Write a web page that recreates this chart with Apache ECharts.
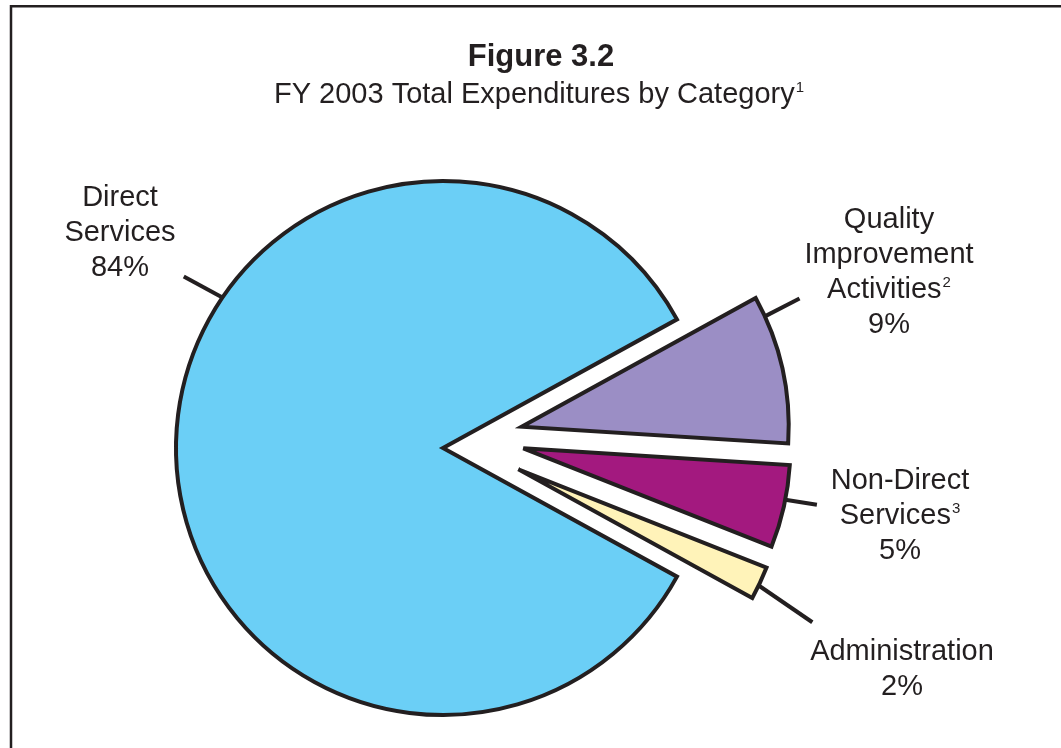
<!DOCTYPE html>
<html>
<head>
<meta charset="utf-8">
<title>Figure 3.2</title>
<script src="https://cdn.jsdelivr.net/npm/echarts@6/dist/echarts.min.js"></script>
<style>
  html, body { margin: 0; padding: 0; background: #ffffff; }
  #chart { width: 1061px; height: 748px; }
</style>
</head>
<body>
<div id="chart"></div>
<script>
// FY 2003 expenditure shares, in percent (slices run clockwise from the upper right)
const categories = ['Quality Improvement Activities', 'Non-Direct Services', 'Administration', 'Direct Services'];
const values = [9, 5, 2, 84];
// Label text per category; {sup|n} marks a footnote reference
const labelLines = [
  ['Quality', 'Improvement', 'Activities{sup|2}'],
  ['Non-Direct', 'Services{sup|3}'],
  ['Administration'],
  ['Direct', 'Services']
];
const titleText = 'Figure 3.2';
const subtitleText = 'FY 2003 Total Expenditures by Category';
const subtitleNote = '1';

// ---- presentation ----
const INK = '#231F20';
const FONT = '"Liberation Sans", Arial, Helvetica, sans-serif';
const sliceColors = ['#9B8EC5', '#A3197F', '#FFF3B9', '#6BCFF6'];
const RADIUS = 267;
const START_ANGLE = 28.8;
// Each slice is drawn from its own centre so the small slices sit pulled out
const sliceCenters = [[521.7, 426.7], [523.3, 448.3], [518.3, 469.3], [443, 448]];
// Leader lines: where they leave the rim (deg), their heading (deg) and length (px)
const leaders = [
  { at: 24.4, dir: 27.2, len: 39 },
  { at: -11.1, dir: -9.1, len: 32 },
  { at: -25.8, dir: -34.4, len: 65 },
  { at: 145.7, dir: 151.5, len: 44 }
];
// Label anchors (centre x, top y)
const labelAnchors = [[889, 202], [900, 463], [902, 634], [120, 180]];

const rad = d => d * Math.PI / 180;

function leaderPoints(k) {
  const c = sliceCenters[k], l = leaders[k];
  const p0 = [c[0] + RADIUS * Math.cos(rad(l.at)), c[1] - RADIUS * Math.sin(rad(l.at))];
  const p1 = [p0[0] + l.len * Math.cos(rad(l.dir)), p0[1] - l.len * Math.sin(rad(l.dir))];
  return [p0, p1, p1];
}

const supStyle = { fontSize: 15, lineHeight: 15, verticalAlign: 'top', padding: [3, 0, 0, 1], color: INK, fontFamily: FONT };

const series = categories.map((_, k) => ({
  type: 'pie',
  center: sliceCenters[k],
  radius: RADIUS,
  startAngle: START_ANGLE,
  clockwise: true,
  avoidLabelOverlap: false,
  silent: true,
  animation: false,
  data: categories.map((name, i) => ({
    name: name,
    value: values[i],
    itemStyle: i === k
      ? { color: sliceColors[i], borderColor: INK, borderWidth: 4, borderJoin: 'miter', borderMiterLimit: 4 }
      : { color: 'rgba(0,0,0,0)', borderWidth: 0 },
    label: { show: i === k },
    labelLine: { show: i === k }
  })),
  label: {
    position: 'outside',
    formatter: p => labelLines[p.dataIndex].join('\n') + '\n' + p.value + '%',
    color: INK,
    fontFamily: FONT,
    fontSize: 29,
    lineHeight: 35,
    align: 'center',
    rich: { sup: supStyle }
  },
  labelLine: {
    length: 10,
    length2: 10,
    lineStyle: { color: INK, width: 4 }
  },
  labelLayout: function (params) {
    if (params.dataIndex !== k) return {};
    const a = labelAnchors[k];
    return {
      x: a[0],
      y: a[1],
      align: 'center',
      verticalAlign: 'top',
      labelLinePoints: leaderPoints(k)
    };
  }
}));

const chart = echarts.init(document.getElementById('chart'), null, { renderer: 'canvas' });
chart.setOption({
  backgroundColor: '#ffffff',
  animation: false,
  title: [
    {
      text: titleText,
      left: 541,
      top: 42,
      textAlign: 'center',
      padding: 0,
      textStyle: { fontSize: 31, fontWeight: 'bold', lineHeight: 31, color: INK, fontFamily: FONT }
    },
    {
      text: subtitleText + '{sup|' + subtitleNote + '}',
      left: 539,
      top: 77,
      textAlign: 'center',
      padding: 0,
      textStyle: {
        fontSize: 29, fontWeight: 'normal', lineHeight: 35, color: INK, fontFamily: FONT,
        rich: { sup: supStyle }
      }
    }
  ],
  graphic: [
    { type: 'line', shape: { x1: 10, y1: 6.2, x2: 1061, y2: 6.2 }, style: { stroke: INK, lineWidth: 2.5 } },
    { type: 'line', shape: { x1: 11, y1: 5, x2: 11, y2: 748 }, style: { stroke: INK, lineWidth: 2.5 } }
  ],
  series: series
});
</script>
</body>
</html>
